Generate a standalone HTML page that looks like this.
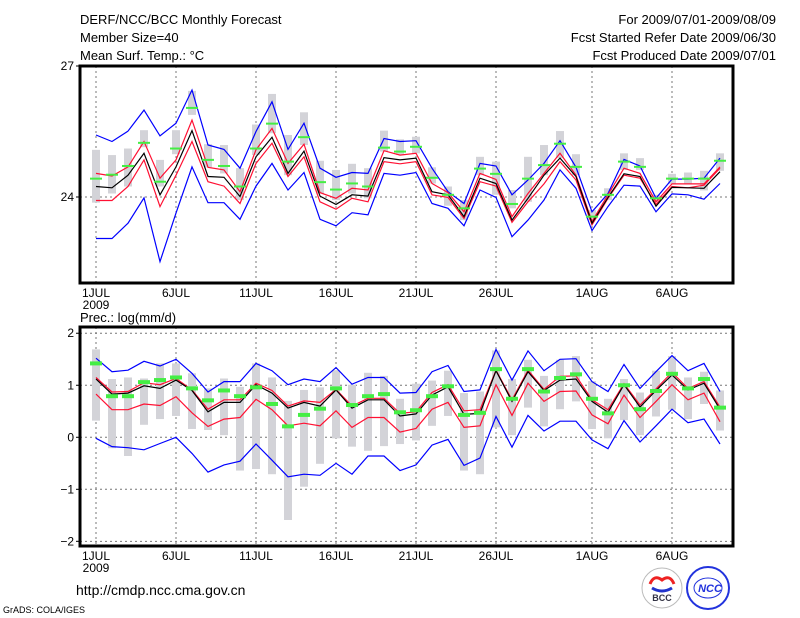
<!DOCTYPE html>
<html><head><meta charset="utf-8"><style>
html,body{margin:0;padding:0;background:#fff;}
svg{display:block;font-family:"Liberation Sans",sans-serif;}
</style></head><body>
<svg id="chart" width="800" height="618" viewBox="0 0 800 618" xmlns="http://www.w3.org/2000/svg">
<g font-size="13" fill="#000">
<text x="80" y="24">DERF/NCC/BCC Monthly Forecast</text>
<text x="80" y="42">Member Size=40</text>
<text x="80" y="60">Mean Surf. Temp.: °C</text>
<text x="776" y="24" text-anchor="end">For 2009/07/01-2009/08/09</text>
<text x="776" y="42" text-anchor="end">Fcst Started Refer Date 2009/06/30</text>
<text x="776" y="60" text-anchor="end">Fcst Produced Date 2009/07/01</text>
<text x="80" y="322">Prec.: log(mm/d)</text>
<text x="76" y="595" font-size="14">http://cmdp.ncc.cma.gov.cn</text>
<text x="3" y="613" font-size="9">GrADS: COLA/IGES</text>
</g>
<g>
<circle cx="662" cy="588" r="20" fill="#fff" stroke="#bbb"/>
<path d="M650 584 q4 -10 12 -4 q8 -6 12 4" fill="none" stroke="#e22" stroke-width="3"/>
<path d="M652 588 q10 6 20 0" fill="none" stroke="#23c" stroke-width="3"/>
<text x="662" y="601" font-size="9" font-weight="bold" text-anchor="middle" fill="#334">BCC</text>
</g>
<g>
<circle cx="708" cy="588" r="21" fill="#fff" stroke="#23d" stroke-width="2"/>
<ellipse cx="708" cy="588" rx="14" ry="10" fill="none" stroke="#23d"/>
<text x="710" y="592" font-size="11" font-weight="bold" font-style="italic" text-anchor="middle" fill="#23d">NCC</text>
</g>
<g id="plots"></g>
</svg>
<script>
// ---- Temperature data (days 0..39 from 1 JUL 2009) ----
const tBlueHi = [25.42,25.27,25.51,25.99,25.40,25.69,26.45,25.19,25.09,24.66,25.50,26.18,25.09,25.69,24.66,24.45,24.56,24.54,25.34,25.27,25.29,24.66,24.12,23.85,24.77,24.71,24.05,24.39,24.77,25.29,24.68,23.66,24.08,24.86,24.71,23.97,24.41,24.41,24.43,24.89];
const tRedHi = [24.54,24.48,24.69,25.27,24.43,24.85,25.76,24.68,24.62,24.12,25.08,25.57,24.77,25.21,24.10,23.97,24.20,24.16,25.06,24.96,25.00,24.31,24.10,23.66,24.54,24.40,23.55,24.08,24.54,25.00,24.50,23.44,24.05,24.66,24.54,23.89,24.30,24.30,24.30,24.69];
const tMean = [24.24,24.21,24.50,25.00,24.05,24.69,25.52,24.47,24.45,24.01,24.92,25.37,24.54,25.05,24.02,23.83,24.05,24.02,24.90,24.85,24.89,24.12,24.05,23.55,24.43,24.31,23.47,23.97,24.50,24.89,24.47,23.40,23.99,24.53,24.47,23.79,24.22,24.21,24.20,24.58];
const tRedLo = [23.92,23.92,24.24,24.85,23.78,24.50,25.27,24.35,24.25,23.85,24.77,25.23,24.47,24.92,23.89,23.72,23.97,23.89,24.81,24.76,24.81,24.05,23.99,23.51,24.35,24.25,23.42,23.89,24.30,24.81,24.39,23.36,23.97,24.50,24.43,23.83,24.24,24.21,24.27,24.66];
const tBlueLo = [23.05,23.05,23.40,23.98,22.52,23.63,24.69,23.87,23.87,23.49,24.25,24.77,24.16,24.56,23.49,23.34,23.64,23.59,24.54,24.50,24.56,23.85,23.74,23.34,24.16,23.99,23.09,23.47,23.93,24.62,24.20,23.23,23.78,24.27,24.25,23.66,24.07,24.05,23.95,24.31];
const tObs = [24.42,24.51,24.71,25.24,24.35,25.11,26.04,24.85,24.71,24.24,25.11,25.68,24.81,25.37,24.34,24.17,24.31,24.24,25.13,25.04,25.15,24.44,24.05,23.74,24.65,24.53,23.84,24.42,24.73,25.22,24.69,23.55,24.05,24.81,24.69,23.97,24.42,24.42,24.42,24.83];
const tBoxHi = [25.08,24.96,25.11,25.53,24.85,25.53,26.43,25.21,25.19,24.66,25.66,26.36,25.42,25.94,24.83,24.62,24.76,24.66,25.52,25.32,25.38,24.68,24.24,23.93,24.92,24.81,24.16,24.92,25.19,25.51,24.98,23.70,24.20,25.00,24.89,24.05,24.53,24.56,24.60,25.00];
const tBoxLo = [23.87,24.08,24.24,25.14,24.24,24.98,25.88,24.68,24.54,23.93,24.96,25.46,24.50,25.19,24.08,23.93,24.08,23.97,25.04,24.96,25.00,24.31,23.80,23.47,24.50,24.05,23.74,23.89,24.50,24.89,24.50,23.47,23.93,24.62,24.62,23.89,24.30,24.31,24.15,24.60];
// ---- Precipitation data log(mm/d) ----
const pBlueHi = [1.52,1.26,1.29,1.46,1.37,1.50,1.23,0.87,1.07,1.07,1.42,1.28,1.01,1.12,1.07,1.34,1.02,1.15,1.15,0.85,0.86,1.26,1.38,0.88,0.91,1.69,1.10,1.66,1.28,1.50,1.51,1.07,0.88,1.40,0.94,1.26,1.57,1.28,1.42,0.88];
const pRedHi = [1.15,0.87,0.88,1.05,1.01,1.13,0.91,0.54,0.72,0.72,1.04,0.90,0.60,0.70,0.67,0.92,0.60,0.75,0.75,0.46,0.49,0.86,1.01,0.51,0.53,1.29,0.72,1.29,0.92,1.17,1.18,0.72,0.53,1.03,0.62,0.93,1.25,0.94,1.07,0.58];
const pMean = [1.12,0.83,0.85,0.99,0.94,1.10,0.90,0.49,0.67,0.67,1.01,0.85,0.56,0.67,0.60,0.91,0.56,0.72,0.72,0.41,0.45,0.81,0.97,0.44,0.46,1.28,0.69,1.26,0.90,1.10,1.12,0.69,0.48,1.01,0.58,0.90,1.20,0.91,1.04,0.54];
const pRedLo = [0.83,0.53,0.53,0.64,0.61,0.78,0.47,0.21,0.35,0.38,0.73,0.53,0.22,0.27,0.22,0.51,0.19,0.38,0.38,0.10,0.17,0.54,0.67,0.19,0.22,1.01,0.42,1.04,0.69,0.88,0.89,0.43,0.26,0.81,0.38,0.69,1.01,0.72,0.85,0.30];
const pBlueLo = [-0.02,-0.18,-0.20,-0.24,-0.12,0.00,-0.31,-0.67,-0.53,-0.46,-0.13,-0.44,-0.76,-0.71,-0.73,-0.50,-0.71,-0.36,-0.36,-0.64,-0.53,-0.15,-0.04,-0.54,-0.40,0.40,-0.19,0.42,0.12,0.31,0.31,-0.05,-0.22,0.32,-0.09,0.22,0.54,0.28,0.35,-0.13];
const pObs = [1.42,0.79,0.79,1.06,1.10,1.15,0.94,0.71,0.90,0.79,0.96,0.64,0.21,0.43,0.55,0.94,0.62,0.79,0.83,0.48,0.52,0.79,0.98,0.43,0.47,1.31,0.74,1.31,0.88,1.14,1.21,0.74,0.46,1.00,0.54,0.89,1.22,0.94,1.12,0.57];
const pBoxHi = [1.69,1.12,1.15,1.13,1.42,1.42,1.23,0.94,1.13,0.97,1.42,1.15,0.70,0.91,0.96,1.29,1.01,1.24,1.18,0.74,1.03,1.09,1.28,0.85,0.88,1.67,1.12,1.49,1.18,1.49,1.56,1.08,0.74,1.12,0.86,1.28,1.56,1.15,1.26,0.90];
const pBoxLo = [0.32,-0.21,-0.36,0.24,0.35,0.41,0.16,0.14,0.04,-0.64,-0.61,-0.71,-1.59,-0.95,-0.51,-0.02,-0.18,-0.26,-0.17,-0.13,-0.06,0.22,0.41,-0.64,-0.71,0.19,0.04,0.57,0.21,0.54,0.69,0.16,-0.02,0.33,0.04,0.40,0.53,0.35,0.64,0.13];
const dayTicks = [0,5,10,15,20,25,31,36];
const dayLabels = ["1JUL","6JUL","11JUL","16JUL","21JUL","26JUL","1AUG","6AUG"];
const tTicks = [24,27];
const pTicks = [-2,-1,0,1,2];

const NS = "http://www.w3.org/2000/svg";
const root = document.getElementById("plots");
function mk(tag, attrs, parent){
  const e = document.createElementNS(NS, tag);
  for (const k in attrs) e.setAttribute(k, attrs[k]);
  (parent||root).appendChild(e);
  return e;
}
const X0 = 80, X1 = 733;
function xDay(d){ return 96 + 16*d; }

function panel(cfg){
  const g = mk("g", {});
  
  
  const y = v => cfg.yTop + (cfg.vMax - v) * (cfg.yBot - cfg.yTop) / (cfg.vMax - cfg.vMin);
  // grid
  dayTicks.forEach((d,i) => {
    const l = mk("line", {x1:xDay(d), x2:xDay(d), y1:cfg.yTop, y2:cfg.yBot, stroke:"#777", "stroke-dasharray":"2,3", "stroke-width":1}, g);
    
    
    const t = mk("text", {x:xDay(d), y:cfg.yBot+14, "font-size":12, "text-anchor":"middle"}, g);
    t.textContent = dayLabels[i];
    
    
  });
  const yr = mk("text", {x:xDay(0), y:cfg.yBot+26, "font-size":12, "text-anchor":"middle"}, g);
  yr.textContent = "2009";
  
  
  cfg.ticks.forEach(v => {
    const yy = y(v);
    const l = mk("line", {x1:X0, x2:X1, y1:yy, y2:yy, stroke:"#777", "stroke-dasharray":"2,3", "stroke-width":1}, g);
    
    
    const tk = mk("line", {x1:X0-4, x2:X0, y1:yy, y2:yy, stroke:"#000"}, g);
    
    
    const t = mk("text", {x:X0-6, y:yy+4, "font-size":12, "text-anchor":"end"}, g);
    t.textContent = String(v).replace("-", "\u2212");
    
    
  });
  // boxes
  cfg.boxHi.forEach((hi,i) => {
    const lo = cfg.boxLo[i];
    const r = mk("rect", {x:xDay(i)-4, y:y(hi), width:8, height:Math.max(1, y(lo)-y(hi)), fill:"#d3d3d8"}, g);
    
    
  });
  // lines
  const series = [
    [cfg.blueLo, "#0000ff", "blue-lower-line"],
    [cfg.blueHi, "#0000ff", "blue-upper-line"],
    [cfg.redLo, "#ff1133", "red-lower-line"],
    [cfg.redHi, "#ff1133", "red-upper-line"],
    [cfg.mean, "#000000", "ensemble-mean-line"]
  ];
  series.forEach(s => {
    const pts = s[0].map((v,i) => xDay(i)+","+y(v).toFixed(1)).join(" ");
    const p = mk("polyline", {points:pts, fill:"none", stroke:s[1], "stroke-width":1.2}, g);
    
    
  });
  // observed marks
  cfg.obs.forEach((v,i) => {
    const r = mk("rect", {x:xDay(i)-6, y:y(v)-cfg.gh/2, width:12, height:cfg.gh, fill:"#44ee44"}, g);
    
    
  });
  const f = mk("rect", {x:X0, y:cfg.yTop, width:X1-X0, height:cfg.yBot-cfg.yTop, fill:"none", stroke:"#000", "stroke-width":3}, g);
  
  
}
panel({name:"temperature-panel", yTop:66, yBot:283, vMax:27, vMin:22.03, ticks:tTicks, gh:2,
  blueHi:tBlueHi, redHi:tRedHi, mean:tMean, redLo:tRedLo, blueLo:tBlueLo, obs:tObs, boxHi:tBoxHi, boxLo:tBoxLo});
panel({name:"precipitation-panel", yTop:327, yBot:546, vMax:2.12, vMin:-2.09, ticks:pTicks, gh:4,
  blueHi:pBlueHi, redHi:pRedHi, mean:pMean, redLo:pRedLo, blueLo:pBlueLo, obs:pObs, boxHi:pBoxHi, boxLo:pBoxLo});
</script>
</body></html>
